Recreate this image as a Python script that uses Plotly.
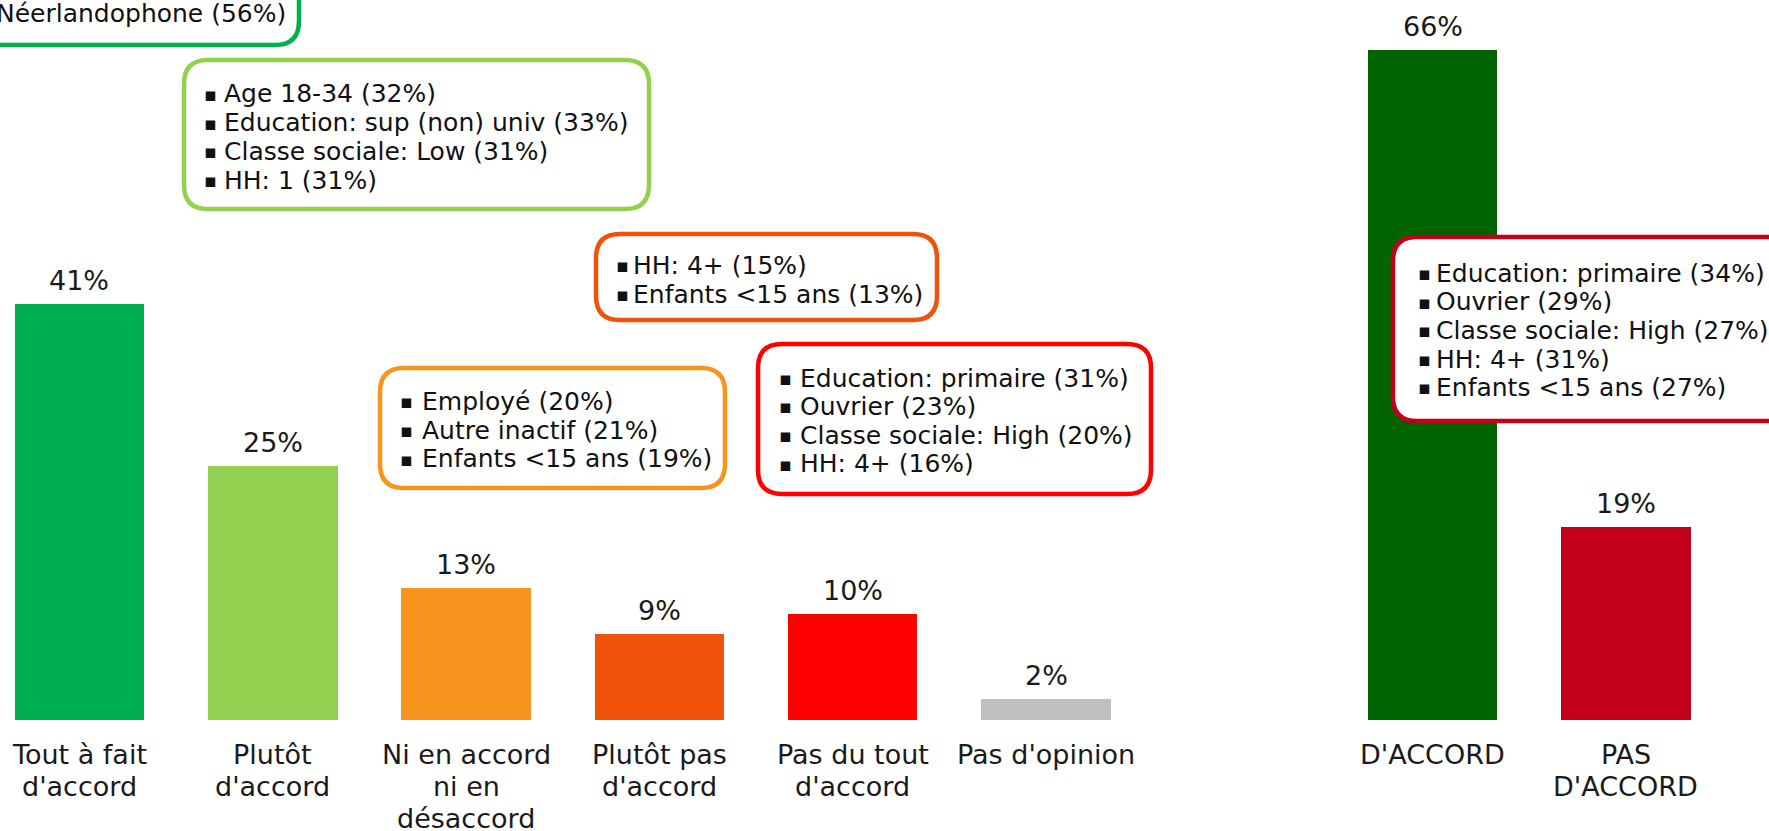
import plotly.graph_objects as go

# ---------------- data ----------------
detail_labels = ["Tout à fait<br>d'accord", "Plutôt<br>d'accord", "Ni en accord<br>ni en<br>désaccord",
                 "Plutôt pas<br>d'accord", "Pas du tout<br>d'accord", "Pas d'opinion"]
detail_values = [41, 25, 13, 8.5, 10.4, 2.1]          # bar heights
detail_text = ["41%", "25%", "13%", "9%", "10%", "2%"]  # printed labels
detail_colors = ["#00B050", "#92D050", "#F7941D", "#F0520A", "#FF0000", "#BFBFBF"]
detail_pos = [0, 1, 2, 3, 4, 5]

summary_labels = ["D'ACCORD", "PAS<br>D'ACCORD"]
summary_values = [66, 19]
summary_text = ["66%", "19%"]
summary_colors = ["#006400", "#C5001A"]
summary_pos = [7, 8]

# callout boxes
box_neerl = ["Néerlandophone (56%)"]
box_plutot = ["Age 18-34 (32%)", "Education: sup (non) univ (33%)", "Classe sociale: Low (31%)", "HH: 1 (31%)"]
box_plutotpas = ["HH: 4+ (15%)", "Enfants <15 ans (13%)"]
box_ni = ["Employé (20%)", "Autre inactif (21%)", "Enfants <15 ans (19%)"]
box_pasdutout = ["Education: primaire (31%)", "Ouvrier (23%)", "Classe sociale: High (20%)", "HH: 4+ (16%)"]
box_pasdaccord = ["Education: primaire (34%)", "Ouvrier (29%)", "Classe sociale: High (27%)", "HH: 4+ (31%)",
                  "Enfants <15 ans (27%)"]

# ---------------- layout geometry ----------------
W, H = 1769, 831
PLOT_BOTTOM = 720
FONT = "DejaVu Sans"


def px(x):
    return x / W


def py(y):
    return (PLOT_BOTTOM - y) / PLOT_BOTTOM


def rounded(x0, y0, x1, y1, r):
    rx, ry = r / W, r / PLOT_BOTTOM
    X0, X1 = px(x0), px(x1)
    Y0, Y1 = py(y0), py(y1)  # Y0 is top (larger)
    return (f"M {X0+rx},{Y0} L {X1-rx},{Y0} Q {X1},{Y0} {X1},{Y0-ry} "
            f"L {X1},{Y1+ry} Q {X1},{Y1} {X1-rx},{Y1} "
            f"L {X0+rx},{Y1} Q {X0},{Y1} {X0},{Y1+ry} "
            f"L {X0},{Y0-ry} Q {X0},{Y0} {X0+rx},{Y0} Z")


fig = go.Figure()
all_pos = detail_pos + summary_pos
all_vals = detail_values + summary_values
all_text = detail_text + summary_text
all_labels = detail_labels + summary_labels
fig.add_trace(go.Bar(x=detail_pos, y=detail_values, marker_color=detail_colors,
                     width=0.67, marker_line_width=0, hoverinfo="skip"))
fig.add_trace(go.Bar(x=summary_pos, y=summary_values, marker_color=summary_colors,
                     width=0.67, marker_line_width=0, hoverinfo="skip"))

annotations = []
# value labels above the bars
for xp, v, t in zip(all_pos, all_vals, all_text):
    annotations.append(dict(x=xp, y=v, xref="x", yref="y", text=t, showarrow=False,
                            yanchor="bottom", yshift=6, font=dict(size=27, color="#1a1a1a", family=FONT)))

# category labels under the axis (one annotation per line for tight line spacing)
LABEL_FIRST = 754
LABEL_STEP = 32.3
for xp, lab in zip(all_pos, all_labels):
    for i, line in enumerate(lab.split("<br>")):
        annotations.append(dict(x=xp, y=py(LABEL_FIRST + i * LABEL_STEP), xref="x", yref="paper", text=line,
                                showarrow=False, xanchor="center", yanchor="middle",
                                font=dict(size=27, color="#1a1a1a", family=FONT)))

shapes = []
boxes = [
    # color, x0, y0, x1, y1, bullet_x, text_x, line centers, items
    ("#00B050", -40, -40, 299, 45, -24, -6, [13], box_neerl),
    ("#92D050", 184, 60, 649, 209, 202, 222, [94, 123, 151, 180], box_plutot),
    ("#F0520A", 596, 234, 937, 320, 614, 631, [265, 294], box_plutotpas),
    ("#F7941D", 380, 368, 725, 488, 398, 420, [401, 430, 459], box_ni),
    ("#FF0000", 758, 344, 1151, 494, 777, 798, [378, 406, 435, 464], box_pasdutout),
    ("#C5001A", 1393, 237, 1800, 421, 1416, 1434, [273, 302, 330, 359, 387], box_pasdaccord),
]
for col, x0, y0, x1, y1, bx, tx, ys, items in boxes:
    shapes.append(dict(type="path", xref="paper", yref="paper", path=rounded(x0, y0, x1, y1, 24),
                       fillcolor="white", line=dict(color=col, width=4.5), layer="above"))
    for yy, it in zip(ys, items):
        annotations.append(dict(x=px(bx), y=py(yy), xref="paper", yref="paper", text="▪", showarrow=False,
                                xanchor="left", yanchor="middle", font=dict(size=19, color="#111", family=FONT)))
        annotations.append(dict(x=px(tx), y=py(yy), xref="paper", yref="paper", text=it, showarrow=False,
                                xanchor="left", yanchor="middle", font=dict(size=25, color="#111", family=FONT)))

fig.update_layout(
    width=W, height=H,
    margin=dict(l=0, r=0, t=0, b=H - PLOT_BOTTOM, pad=0, autoexpand=False),
    paper_bgcolor="white", plot_bgcolor="white",
    showlegend=False, bargap=0,
    font=dict(family=FONT, color="#1a1a1a"),
    xaxis=dict(range=[-0.411, 8.74], tickmode="array", tickvals=all_pos,
               showticklabels=False, showgrid=False, zeroline=False,
               showline=False, ticks="", automargin=False, fixedrange=True),
    yaxis=dict(range=[0, 70.94], visible=False, automargin=False, fixedrange=True),
    shapes=shapes,
    annotations=annotations,
)

fig.write_html("out.html", config={"displayModeBar": False},
               post_script="document.body.style.margin='0';document.body.style.overflow='hidden';")
